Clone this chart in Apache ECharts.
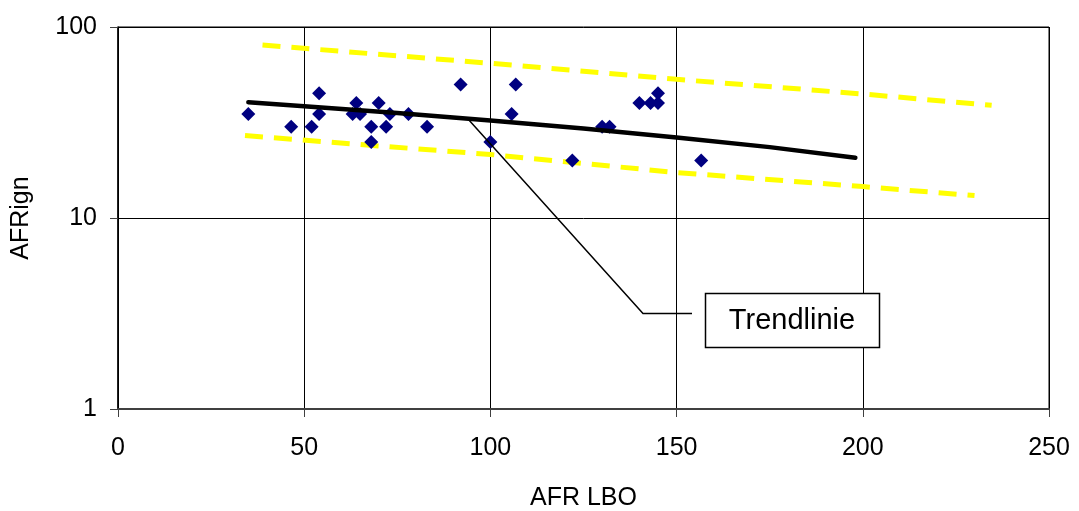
<!DOCTYPE html>
<html>
<head>
<meta charset="utf-8">
<script src="https://cdn.jsdelivr.net/npm/echarts@6/dist/echarts.min.js"></script>
<style>
html,body{margin:0;padding:0;background:#fff;}
#chart{width:1079px;height:511px;}
</style>
</head>
<body>
<div id="chart"></div>
<script>
// Measured points: AFR LBO (x) vs AFRign (y)
const afrLbo = [35, 46.5, 52, 54, 54, 63, 64, 65, 68, 68, 70, 72, 73, 78, 83, 92, 100, 105.7, 106.8, 122, 130, 132, 140, 143, 145, 145, 156.6];
const afrIgn = [35, 30, 30, 45, 35, 35, 40, 35, 30, 25, 40, 30, 35, 35, 30, 50, 25, 35, 50, 20, 30, 30, 40, 40, 45, 40, 20];

// Trend line
const trendX = [35, 50, 75, 100, 125, 150, 175, 198];
const trendY = [40.4, 38.5, 35.5, 32.4, 29.4, 26.4, 23.5, 20.7];

// Upper and lower yellow dashed bounds
const upperX = [38.8, 100, 150, 200, 234.6];
const upperY = [80.5, 64.6, 53.2, 44.6, 38.9];
const lowerX = [34.1, 100, 150, 200, 230];
const lowerY = [27.0, 21.5, 17.3, 14.6, 13.1];

const xTicks = [0, 50, 100, 150, 200, 250];
const yTicks = [1, 10, 100];

const pairs = (xs, ys) => xs.map((x, i) => [x, ys[i]]);
const FONT = 'Liberation Sans, Arial, sans-serif';

const chart = echarts.init(document.getElementById('chart'), null, {renderer: 'canvas'});
chart.setOption({
  animation: false,
  backgroundColor: '#ffffff',
  grid: {left: 118, right: 30, top: 27, bottom: 102, containLabel: false, outerBoundsMode: 'none',
         show: true, borderColor: '#000', borderWidth: 1},
  xAxis: {
    type: 'value', min: xTicks[0], max: xTicks[xTicks.length - 1], interval: 50,
    name: 'AFR LBO', nameLocation: 'middle', nameGap: 77,
    nameTextStyle: {fontFamily: FONT, fontSize: 25, color: '#000'},
    axisLine: {show: true, onZero: false, lineStyle: {color: '#404040', width: 2}},
    axisTick: {show: true, length: 8, inside: false, lineStyle: {color: '#404040', width: 1}},
    axisLabel: {fontFamily: FONT, fontSize: 25, color: '#000', margin: 27},
    splitLine: {show: true, lineStyle: {color: '#000', width: 1}}
  },
  yAxis: {
    type: 'log', logBase: 10, min: yTicks[0], max: yTicks[yTicks.length - 1],
    name: 'AFRign', nameLocation: 'middle', nameGap: 84, nameRotate: 90,
    nameTextStyle: {fontFamily: FONT, fontSize: 25, color: '#000'},
    axisLine: {show: true, lineStyle: {color: '#000', width: 1.5}},
    axisTick: {show: true, length: 8, inside: false, lineStyle: {color: '#404040', width: 1}},
    axisLabel: {fontFamily: FONT, fontSize: 25, color: '#000', margin: 21},
    minorTick: {show: false},
    splitLine: {show: true, lineStyle: {color: '#000', width: 1}}
  },
  series: [
    {
      type: 'line', data: pairs(upperX, upperY), symbol: 'none', z: 1,
      lineStyle: {color: '#FFFF00', width: 5, type: [18, 11], cap: 'butt'}
    },
    {
      type: 'line', data: pairs(lowerX, lowerY), symbol: 'none', z: 1,
      lineStyle: {color: '#FFFF00', width: 5, type: [18, 11], cap: 'butt'}
    },
    {
      type: 'scatter', data: pairs(afrLbo, afrIgn), symbol: 'diamond', symbolSize: 14, z: 2,
      itemStyle: {color: '#000080', opacity: 1}
    },
    {
      type: 'line', data: pairs(trendX, trendY), symbol: 'none', z: 3,
      lineStyle: {color: '#000', width: 4.5, cap: 'round', join: 'round'}
    }
  ],
  graphic: [
    {type: 'polyline', z: 10, shape: {points: [[468, 119], [643, 313.5], [692, 313.5]]},
     style: {stroke: '#000', lineWidth: 1.5, fill: null}},
    {type: 'rect', z: 10, shape: {x: 705.5, y: 293.5, width: 174, height: 54},
     style: {stroke: '#000', lineWidth: 1.5, fill: '#fff'}},
    {type: 'text', z: 11, x: 792, y: 320.5,
     style: {text: 'Trendlinie', font: '29px ' + FONT, fill: '#000', align: 'center', verticalAlign: 'middle'}}
  ]
});
</script>
</body>
</html>
